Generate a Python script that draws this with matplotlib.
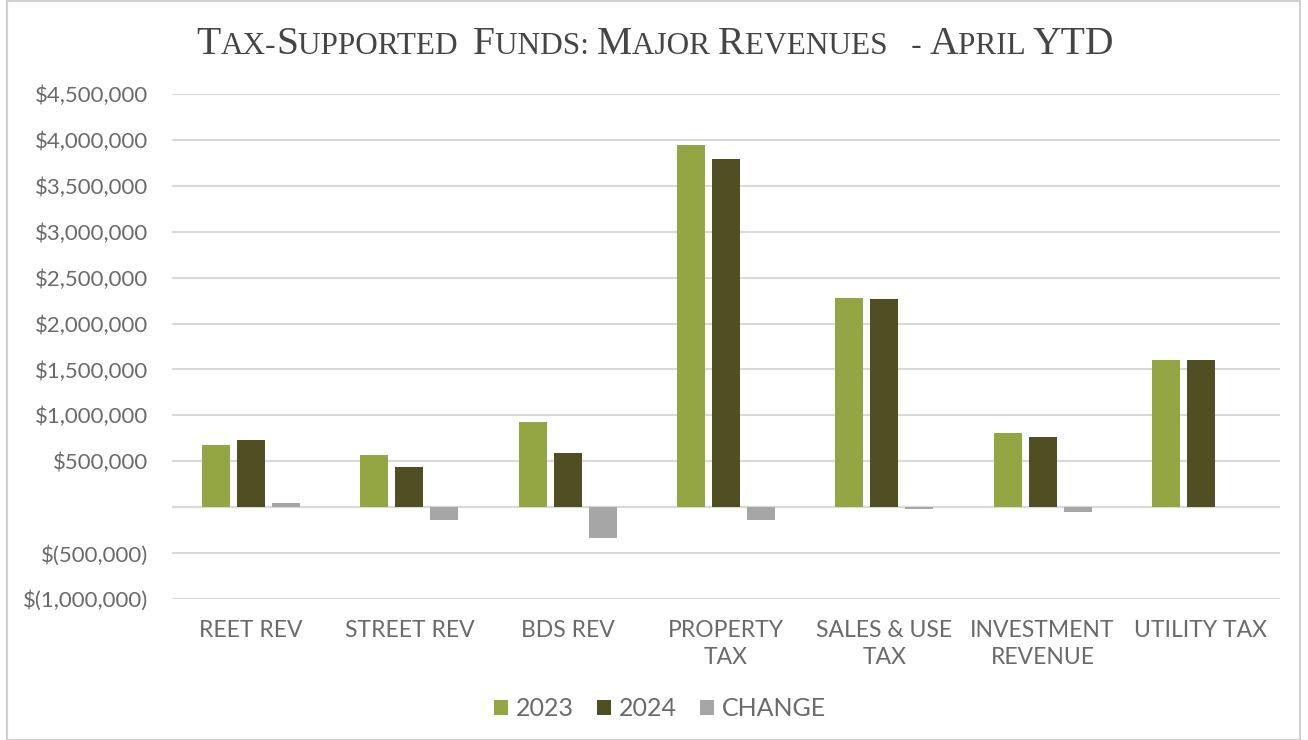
import matplotlib
matplotlib.use("Agg")
import matplotlib.pyplot as plt
import numpy as np
from matplotlib.ticker import FuncFormatter
from matplotlib.offsetbox import TextArea, HPacker, AnchoredOffsetbox
from matplotlib.patches import Rectangle

categories = ["REET REV", "STREET REV", "BDS REV", "PROPERTY\nTAX", "SALES & USE\nTAX",
              "INVESTMENT\nREVENUE", "UTILITY TAX"]
values_2023 = [675000, 567000, 926000, 3940000, 2280000, 803000, 1605000]
values_2024 = [730000, 436000, 588000, 3790000, 2265000, 759000, 1605000]
values_change = [45000, -140000, -338000, -142000, -15000, -50000, 0]
series_names = ["2023", "2024", "CHANGE"]
yticks = [-1000000, -500000, 0, 500000, 1000000, 1500000, 2000000, 2500000,
          3000000, 3500000, 4000000, 4500000]

colors = ["#94a544", "#4f4f23", "#a6a6a6"]
text_color = "#6a6a6a"
font = "Lato"

fig = plt.figure(figsize=(13.08, 7.40), dpi=100)
ax = fig.add_axes([172/1308, 1-599/740, (1280-172)/1308, (599-94)/740])

x = np.arange(len(categories))
w = 0.177
off = 0.221
for i, (vals, name) in enumerate(zip([values_2023, values_2024, values_change], series_names)):
    ax.bar(x + (i-1)*off, vals, width=w, color=colors[i], label=name, zorder=3)

ax.set_xlim(-0.5, len(categories)-0.5)
ax.set_ylim(-1000000, 4500000)
ax.set_yticks(yticks)

def fmt(v, pos):
    if v == 0:
        return ""
    if v < 0:
        return "$({:,.0f})".format(-v)
    return "${:,.0f}".format(v)

ax.yaxis.set_major_formatter(FuncFormatter(fmt))
ax.grid(axis="y", color="#d9d9d9", linewidth=1.5, zorder=0)
ax.axhline(0, color="#d9d9d9", linewidth=1.5, zorder=1)
for s in ax.spines.values():
    s.set_visible(False)
ax.tick_params(axis="both", length=0, colors=text_color)
ax.tick_params(axis="y", pad=17)
ax.tick_params(axis="x", pad=15)
ax.set_xticks(x)
ax.set_xticklabels(categories, fontsize=16.5, family=font, color=text_color,
                   linespacing=1.35)
for lab in ax.get_yticklabels():
    lab.set_fontsize(16)
    lab.set_family(font)
    lab.set_color(text_color)

leg = fig.legend(loc="center", bbox_to_anchor=(660/1308, 1-709/740), ncol=3, frameon=False,
                 prop={"family": font, "size": 18}, handlelength=0.55,
                 handleheight=0.55, handletextpad=0.3, columnspacing=0.95)
for t in leg.get_texts():
    t.set_color(text_color)

# Title in simulated small caps
runs = [("T", 1), ("AX-", 0), ("S", 1), ("UPPORTED  ", 0), ("F", 1), ("UNDS: ", 0),
        ("M", 1), ("AJOR ", 0), ("R", 1), ("EVENUES   - ", 0), ("A", 1), ("PRIL ", 0), ("YTD", 1)]
children = []
for txt, big in runs:
    children.append(TextArea(txt, textprops=dict(family="Liberation Serif",
                                                 size=28.5 if big else 22.5,
                                                 color="#454545")))
pack = HPacker(children=children, align="baseline", pad=0, sep=0)
ab = AnchoredOffsetbox(loc="center", child=pack, bbox_to_anchor=(655/1308, 1-45/740),
                       bbox_transform=fig.transFigure, frameon=False, pad=0, borderpad=0)
fig.add_artist(ab)

fig.add_artist(Rectangle((7/1308, 0.0), (1300-7)/1308, 0.999, transform=fig.transFigure,
                         fill=False, edgecolor="#d0d0d0", linewidth=1.5))

fig.savefig("out.png", dpi=100)
